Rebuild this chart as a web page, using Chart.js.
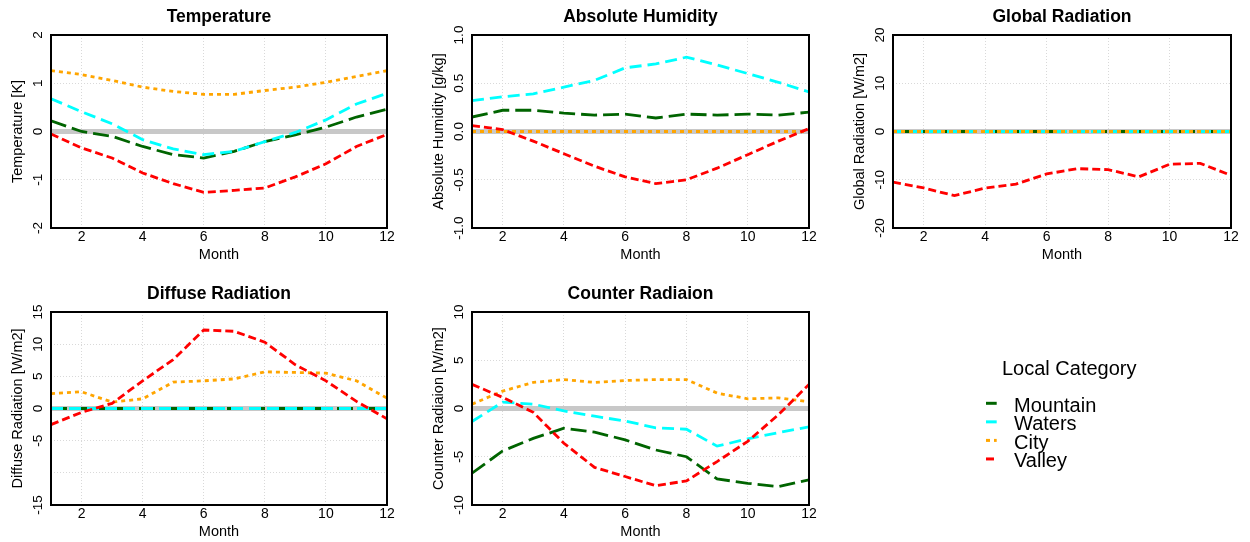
<!DOCTYPE html>
<html lang="en">
<head>
  <meta charset="UTF-8">
  <title>Local Category Differences</title>
  <script src="https://cdn.jsdelivr.net/npm/chart.js"></script>
  <style>
    body {
      margin: 0;
      width: 1250px;
      height: 542px;
      position: relative;
      overflow: hidden;
      background: #ffffff;
    }
    canvas {
      position: absolute;
    }
  </style>
</head>
<body>

<canvas id="temp" width="402" height="270" style="left:0px; top:0px;"></canvas>
<canvas id="hum" width="403" height="270" style="left:421px; top:0px;"></canvas>
<canvas id="glob" width="404" height="270" style="left:842px; top:0px;"></canvas>
<canvas id="diff" width="402" height="270" style="left:0px; top:277px;"></canvas>
<canvas id="cnt" width="403" height="270" style="left:421px; top:277px;"></canvas>
<canvas id="legend" width="220" height="130" style="left:960px; top:350px;"></canvas>

<script>
  const months = [1, 2, 3, 4, 5, 6, 7, 8, 9, 10, 11, 12];
  const monthTicks = [2, 4, 6, 8, 10, 12];

  const seriesNames = ['Mountain', 'Waters', 'City', 'Valley'];
  const seriesColors = ['#006400', '#00ffff', '#ffa500', '#ff0000'];
  const seriesDash = [[16, 6], [12, 6], [4, 4], [8, 4]];

  // Temperature [K]
  const tempMountain = [0.22, 0.0, -0.1, -0.31, -0.48, -0.55, -0.41, -0.21, -0.07, 0.09, 0.3, 0.46];
  const tempWaters = [0.68, 0.41, 0.16, -0.17, -0.36, -0.48, -0.41, -0.21, -0.02, 0.24, 0.57, 0.79];
  const tempCity = [1.26, 1.18, 1.06, 0.92, 0.83, 0.77, 0.77, 0.85, 0.92, 1.02, 1.14, 1.26];
  const tempValley = [-0.05, -0.34, -0.55, -0.86, -1.08, -1.26, -1.22, -1.17, -0.94, -0.67, -0.31, -0.06];
  const tempTicks = [-2, -1, 0, 1, 2];
  const tempTickLabels = ['-2', '-1', '0', '1', '2'];

  // Absolute humidity [g/kg]
  const humMountain = [0.15, 0.22, 0.22, 0.19, 0.17, 0.18, 0.14, 0.18, 0.17, 0.18, 0.17, 0.2];
  const humWaters = [0.32, 0.36, 0.39, 0.46, 0.53, 0.66, 0.7, 0.77, 0.69, 0.6, 0.51, 0.41];
  const humCity = [0, 0, 0, 0, 0, 0, 0, 0, 0, 0, 0, 0];
  const humValley = [0.06, 0.02, -0.1, -0.23, -0.36, -0.47, -0.54, -0.5, -0.38, -0.24, -0.1, 0.03];
  const humTicks = [-1, -0.5, 0, 0.5, 1];
  const humTickLabels = ['-1.0', '-0.5', '0.0', '0.5', '1.0'];

  // Global radiation [W/m2]
  const globMountain = [0, 0, 0, 0, 0, 0, 0, 0, 0, 0, 0, 0];
  const globWaters = [0, 0, 0, 0, 0, 0, 0, 0, 0, 0, 0, 0];
  const globCity = [0, 0, 0, 0, 0, 0, 0, 0, 0, 0, 0, 0];
  const globValley = [-10.5, -11.7, -13.3, -11.7, -10.9, -8.8, -7.7, -7.9, -9.4, -6.8, -6.6, -9.1];
  const globTicks = [-20, -10, 0, 10, 20];
  const globTickLabels = ['-20', '-10', '0', '10', '20'];

  // Diffuse radiation [W/m2]
  const diffMountain = [0, 0, 0, 0, 0, 0, 0, 0, 0, 0, 0, 0];
  const diffWaters = [0, 0, 0, 0, 0, 0, 0, 0, 0, 0, 0, 0];
  const diffCity = [2.3, 2.6, 1.0, 1.5, 4.1, 4.3, 4.6, 5.7, 5.6, 5.5, 4.3, 1.6];
  const diffValley = [-2.5, -0.6, 0.8, 4.3, 7.6, 12.2, 12.0, 10.3, 6.8, 4.3, 1.1, -1.6];
  const diffTicks = [-15, -10, -5, 0, 5, 10, 15];
  const diffTickLabels = ['-15', '', '-5', '0', '5', '10', '15'];

  // Counter radiation [W/m2]
  const cntMountain = [-6.7, -4.4, -3.1, -2.05, -2.45, -3.25, -4.3, -5.0, -7.3, -7.75, -8.1, -7.4];
  const cntWaters = [-1.35, 0.65, 0.45, -0.25, -0.8, -1.3, -2.0, -2.15, -3.9, -3.15, -2.5, -1.9];
  const cntCity = [0.45, 1.8, 2.7, 3.0, 2.7, 2.9, 3.0, 3.0, 1.6, 1.0, 1.1, 0.7];
  const cntValley = [2.5, 1.15, -0.4, -3.6, -6.1, -7.05, -8.0, -7.5, -5.5, -3.4, -0.65, 2.5];
  const cntTicks = [-10, -5, 0, 5, 10];
  const cntTickLabels = ['-10', '-5', '0', '5', '10'];

  const FONT = "'Liberation Sans', Arial, sans-serif";
  Chart.defaults.font.family = FONT;
  Chart.defaults.color = '#000000';

  // zero reference line, plot frame and rotated y tick labels
  const panelFrame = {
    id: 'panelFrame',
    beforeDatasetsDraw(chart) {
      const { ctx, chartArea: a, scales: { y } } = chart;
      const y0 = y.getPixelForValue(0);
      ctx.save();
      ctx.beginPath();
      ctx.rect(a.left, a.top, a.width, a.height);
      ctx.clip();
      ctx.strokeStyle = '#c8c8c8';
      ctx.lineWidth = 5;
      ctx.beginPath();
      ctx.moveTo(a.left, y0);
      ctx.lineTo(a.right, y0);
      ctx.stroke();
      ctx.restore();
    },
    afterDraw(chart, args, opts) {
      const { ctx, chartArea: a, scales: { y } } = chart;
      ctx.save();
      ctx.strokeStyle = '#000000';
      ctx.lineWidth = 2;
      ctx.strokeRect(a.left, a.top, a.width, a.height);

      ctx.fillStyle = '#000000';
      ctx.font = '13.5px ' + FONT;
      ctx.textAlign = 'center';
      ctx.textBaseline = 'middle';
      y.ticks.forEach((t, i) => {
        const label = opts.labels[i];
        if (!label) return;
        ctx.save();
        ctx.translate(a.left - 13, y.getPixelForValue(t.value));
        ctx.rotate(-Math.PI / 2);
        ctx.fillText(label, 0, 0);
        ctx.restore();
      });
      ctx.restore();
    }
  };

  function makePanel(id, title, yTitle, series, ticks, tickLabels) {
    const datasets = series.map((vals, i) => ({
      label: seriesNames[i],
      data: months.map((m, j) => ({ x: m, y: vals[j] })),
      borderColor: seriesColors[i],
      borderDash: seriesDash[i],
      borderWidth: 2.8,
      pointRadius: 0,
      tension: 0,
      fill: false,
      order: seriesNames.length - i
    }));

    const gridStyle = { color: '#d9d9d9', lineWidth: 1, drawTicks: false };

    return new Chart(document.getElementById(id), {
      type: 'line',
      data: { datasets: datasets },
      plugins: [panelFrame],
      options: {
        responsive: false,
        animation: false,
        events: [],
        layout: { padding: { right: 15 } },
        plugins: {
          legend: { display: false },
          tooltip: { enabled: false },
          title: {
            display: true,
            text: title,
            fullSize: false,
            color: '#000000',
            font: { size: 17.5, weight: 'bold' },
            padding: { top: 6.3, bottom: 7.7 }
          },
          panelFrame: { labels: tickLabels }
        },
        scales: {
          x: {
            type: 'linear',
            min: 1,
            max: 12,
            afterBuildTicks: s => { s.ticks = monthTicks.map(v => ({ value: v })); },
            afterFit: s => { s.height = 42; },
            grid: gridStyle,
            border: { display: false, dash: [1, 2] },
            ticks: { padding: 1, autoSkip: false, maxRotation: 0, font: { size: 14 }, color: '#000000' },
            title: { display: true, text: 'Month', color: '#000000', font: { size: 14.5 }, padding: { top: 0, bottom: 6.3 } }
          },
          y: {
            type: 'linear',
            min: ticks[0],
            max: ticks[ticks.length - 1],
            afterBuildTicks: s => { s.ticks = ticks.map(v => ({ value: v })); },
            afterFit: s => { s.width = 51; },
            grid: gridStyle,
            border: { display: false, dash: [1, 2] },
            ticks: { display: false },
            title: { display: true, text: yTitle, color: '#000000', font: { size: 14.5 }, padding: { top: 9.6, bottom: 0 } }
          }
        }
      }
    });
  }

  makePanel('temp', 'Temperature', 'Temperature [K]',
    [tempMountain, tempWaters, tempCity, tempValley], tempTicks, tempTickLabels);
  makePanel('hum', 'Absolute Humidity', 'Absolute Humidity [g/kg]',
    [humMountain, humWaters, humCity, humValley], humTicks, humTickLabels);
  makePanel('glob', 'Global Radiation', 'Global Radiation [W/m2]',
    [globMountain, globWaters, globCity, globValley], globTicks, globTickLabels);
  makePanel('diff', 'Diffuse Radiation', 'Diffuse Radiation [W/m2]',
    [diffMountain, diffWaters, diffCity, diffValley], diffTicks, diffTickLabels);
  makePanel('cnt', 'Counter Radiaion', 'Counter Radiaion [W/m2]',
    [cntMountain, cntWaters, cntCity, cntValley], cntTicks, cntTickLabels);

  // shared legend in the empty sixth cell
  (function drawLegend() {
    const ctx = document.getElementById('legend').getContext('2d');
    ctx.fillStyle = '#000000';
    ctx.textBaseline = 'alphabetic';
    ctx.font = '20px ' + FONT;
    ctx.fillText('Local Category', 42, 25);
    seriesNames.forEach((name, i) => {
      const base = 61.7 + i * 18.55;
      ctx.save();
      ctx.strokeStyle = seriesColors[i];
      ctx.lineWidth = 3;
      ctx.setLineDash(seriesDash[i]);
      ctx.beginPath();
      ctx.moveTo(26, base - 8.4);
      ctx.lineTo(36.7, base - 8.4);
      ctx.stroke();
      ctx.restore();
      ctx.fillText(name, 54, base);
    });
  })();
</script>

</body>
</html>
